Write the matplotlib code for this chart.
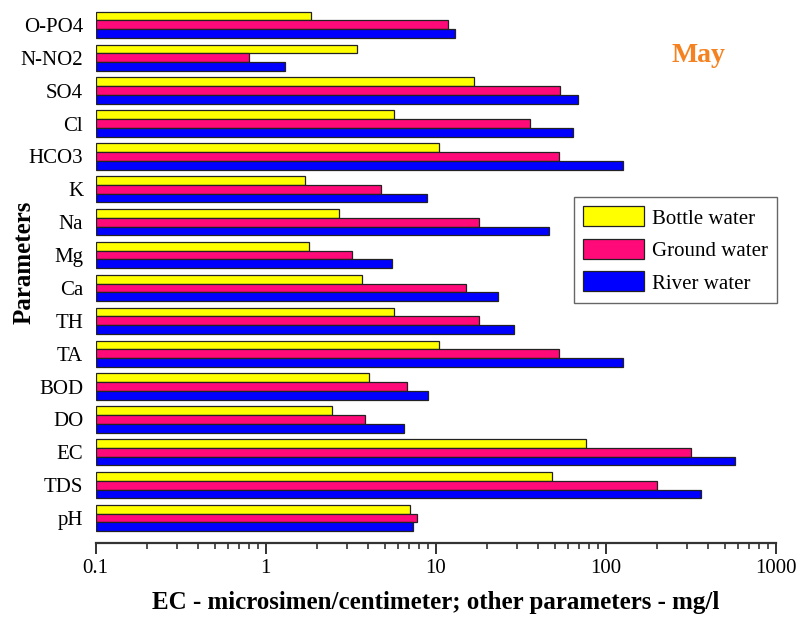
import matplotlib
matplotlib.use('Agg')
import matplotlib.pyplot as plt
import numpy as np

plt.rcParams['font.family'] = ['Liberation Serif', 'DejaVu Serif']

# parameters, listed bottom to top
params = ['pH', 'TDS', 'EC', 'DO', 'BOD', 'TA', 'TH', 'Ca', 'Mg', 'Na',
          'K', 'HCO3', 'Cl', 'SO4', 'N-NO2', 'O-PO4']

bottle = [7.05, 48.5, 77, 2.45, 4.05, 10.4, 5.7, 3.7, 1.8, 2.7,
          1.7, 10.4, 5.7, 16.8, 3.45, 1.85]
ground = [7.75, 199, 316, 3.85, 6.75, 53, 18.1, 15.0, 3.2, 18.1,
          4.75, 53, 36, 54, 0.8, 11.8]
river = [7.35, 363, 578, 6.5, 9.0, 127, 28.8, 23.2, 5.5, 46.6,
         8.9, 127, 64.5, 69, 1.3, 13.0]

XMIN, XMAX = 0.1, 1000

fig = plt.figure(figsize=(7.96, 6.18), dpi=100)
ax = fig.add_axes([0.1202, 0.1218, 0.8543, 0.8672])

y = np.arange(len(params))
h = 0.267
edge = dict(edgecolor='#222222', linewidth=0.9, left=XMIN)
ax.barh(y + h, np.array(bottle) - XMIN, h, color='#FFFF00', label='Bottle water', **edge)
ax.barh(y, np.array(ground) - XMIN, h, color='#FF0A78', label='Ground water', **edge)
ax.barh(y - h, np.array(river) - XMIN, h, color='#0000FF', label='River water', **edge)

ax.set_xscale('log')
ax.set_xlim(XMIN, XMAX)
ax.set_ylim(-0.75, 15.55)
ax.set_xticks([0.1, 1, 10, 100, 1000])
ax.set_xticklabels(['0.1', '1', '10', '100', '1000'])
ax.set_yticks(y)
ax.set_yticklabels(params)

for s in ['left', 'top', 'right']:
    ax.spines[s].set_visible(False)
ax.spines['bottom'].set_linewidth(1.6)
ax.spines['bottom'].set_color('#333333')

ax.tick_params(axis='y', length=0, pad=9, labelsize=15)
ax.tick_params(axis='x', which='major', length=8, width=1.4, color='#333333',
               labelsize=15, pad=4)
ax.tick_params(axis='x', which='minor', length=4.5, width=1.2, color='#333333')

ax.set_xlabel('EC - microsimen/centimeter; other parameters - mg/l',
              fontsize=18, fontweight='bold', labelpad=9)
ax.set_ylabel('Parameters', fontsize=18, fontweight='bold')
ax.yaxis.set_label_coords(-0.089, 0.524)

ax.text(0.887, 0.910, 'May', transform=ax.transAxes, color='#F58220',
        fontsize=20, fontweight='bold', ha='center', va='center')

leg = ax.legend(loc='upper left', bbox_to_anchor=(0.703, 0.645), borderaxespad=0,
                fontsize=15, fancybox=False, framealpha=1, edgecolor='#666666',
                handlelength=2.9, handleheight=1.1, labelspacing=0.5,
                handletextpad=0.4, borderpad=0.45)
leg.get_frame().set_linewidth(1.0)

fig.savefig('out.png', dpi=100)
